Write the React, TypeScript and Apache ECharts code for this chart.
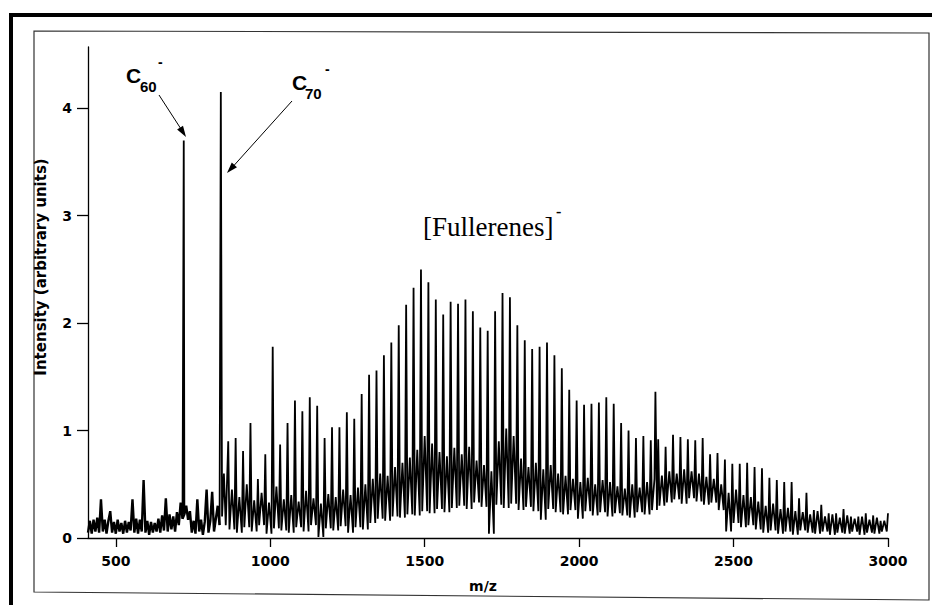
import React, { useEffect, useRef } from "react";
import * as echarts from "echarts";

// ---- axis ticks ----
const X_TICKS = [500, 1000, 1500, 2000, 2500, 3000];
const Y_TICKS = [0, 1, 2, 3, 4];

// ---- low-mass noise (m/z 410 .. 836, every 6 m/z) ----
const NOISE_START = 410;
const NOISE_STEP = 6;
const lowMassNoise = [
  0.05, 0.16, 0.04, 0.17, 0.06, 0.19, 0.05, 0.36, 0.06, 0.17,
  0.04, 0.16, 0.25, 0.05, 0.15, 0.04, 0.17, 0.06, 0.14, 0.04,
  0.16, 0.05, 0.15, 0.07, 0.36, 0.05, 0.18, 0.04, 0.17, 0.06,
  0.54, 0.05, 0.16, 0.03, 0.15, 0.05, 0.14, 0.06, 0.18, 0.05,
  0.21, 0.07, 0.37, 0.06, 0.22, 0.08, 0.2, 0.06, 0.24, 0.12,
  0.33, 0.18, 0.22, 0.3, 0.17, 0.25, 0.05, 0.16, 0.04, 0.36,
  0.06, 0.17, 0.03, 0.15, 0.45, 0.05, 0.16, 0.43, 0.06, 0.18,
  0.3, 0.12,
];

// ---- magic-number peaks ----
const C60 = { mz: 720, intensity: 3.7 };
const C70 = { mz: 840, intensity: 4.15 };
const c70Shoulder: [number, number][] = [
  [844, 0.2],
  [850, 0.6],
  [856, 0.12],
];

// ---- fullerene cluster peaks C72 .. C250 (C2 steps, m/z = 12 n) ----
const FIRST_CARBON = 72;
const peakTop = [
  0.9, 0.93, 0.81, 1.07, 0.55, 0.78, 1.78, 0.87, 1.07, 1.28,
  1.18, 1.31, 1.23, 0.93, 1.03, 1.03, 1.17, 1.11, 1.34, 1.52,
  1.56, 1.7, 1.82, 1.98, 2.17, 2.33, 2.5, 2.38, 2.22, 2.08,
  2.2, 2.18, 2.22, 2.11, 1.96, 1.93, 2.11, 2.28, 2.24, 1.98,
  1.84, 1.76, 1.78, 1.82, 1.7, 1.58, 1.38, 1.28, 1.24, 1.25,
  1.26, 1.31, 1.25, 1.07, 1.0, 0.93, 0.95, 0.91, 0.92, 0.85,
  0.96, 0.94, 0.92, 0.91, 0.93, 0.78, 0.79, 0.73, 0.69, 0.69,
  0.7, 0.66, 0.65, 0.56, 0.54, 0.52, 0.52, 0.37, 0.42, 0.26,
  0.31, 0.23, 0.23, 0.27, 0.2, 0.2, 0.23, 0.21, 0.16, 0.23,
];
const valleyLow = [
  0.08, 0.05, 0.1, 0.06, 0.12, 0.04, 0.09, 0.07, 0.05, 0.1,
  0.06, 0.12, 0.01, 0.09, 0.07, 0.11, 0.05, 0.1, 0.08,
  0.14, 0.18, 0.16, 0.2, 0.19, 0.22, 0.21, 0.25, 0.23, 0.27, 0.24, 0.28,
  0.3, 0.27, 0.33, 0.29, 0.04, 0.31, 0.28, 0.32, 0.26, 0.29, 0.25, 0.17, 0.27, 0.24,
  0.22, 0.26, 0.18, 0.25, 0.21, 0.24, 0.2, 0.23, 0.21, 0.19, 0.24, 0.22, 0.26,
  0.3, 0.33, 0.36, 0.32, 0.37, 0.34, 0.31, 0.33,
  0.26, 0.06, 0.14, 0.1, 0.12,
  0.08, 0.05, 0.07, 0.04, 0.06, 0.03, 0.07, 0.05, 0.04, 0.06,
  0.03, 0.05, 0.04, 0.06, 0.03, 0.05, 0.04, 0.06, 0.08,
];
const secondary = [
  0.45, 0.38, 0.5, 0.35, 0.42, 0.33, 0.48, 0.36, 0.4, 0.34,
  0.44, 0.37, 0.32, 0.41, 0.38, 0.45, 0.4, 0.47, 0.5,
  0.55, 0.6, 0.58, 0.66, 0.7, 0.75, 0.82, 0.95, 0.88, 0.8, 0.76, 0.84,
  0.78, 0.85, 0.72, 0.68, 0.62, 0.9, 1.02, 0.95, 0.74, 0.66, 0.7, 0.64, 0.68, 0.6,
  0.58, 0.55, 0.52, 0.56, 0.5, 0.54, 0.52, 0.48, 0.46, 0.5, 0.47, 0.52, 0.55,
  0.58, 0.62, 0.6, 0.64, 0.62, 0.6, 0.57, 0.55,
  0.5, 0.42, 0.45, 0.4, 0.38,
  0.34, 0.3, 0.32, 0.27, 0.28, 0.25, 0.24, 0.22, 0.25, 0.2,
  0.22, 0.19, 0.21, 0.18, 0.2, 0.17, 0.19, 0.16, 0.18,
];
const isolatedSpikes: [number, number][] = [[2247, 1.36]];

function buildNoise(): [number, number][] {
  return lowMassNoise.map((v, i) => [NOISE_START + i * NOISE_STEP, v] as [number, number]);
}

function buildC60(): [number, number][] {
  // C60 rises out of the noise floor between its two neighbouring samples
  const noise = buildNoise();
  const before = noise.filter((p) => p[0] < C60.mz).pop()!;
  const after = noise.find((p) => p[0] > C60.mz)!;
  return [before, [C60.mz, C60.intensity], after];
}

function buildClusters(): [number, number][] {
  const noise = buildNoise();
  const pts: [number, number][] = [noise[noise.length - 1]];
  pts.push([C70.mz, C70.intensity]);
  c70Shoulder.forEach((p) => pts.push(p));
  peakTop.forEach((v, i) => {
    const mz = 12 * (FIRST_CARBON + 2 * i);
    pts.push([mz, v]);
    if (i < peakTop.length - 1) {
      pts.push([mz + 4, valleyLow[i]]);
      pts.push([mz + 12, secondary[i]]);
      pts.push([mz + 20, valleyLow[i]]);
    }
  });
  isolatedSpikes.forEach((p) => pts.push(p));
  pts.sort((a, b) => a[0] - b[0]);
  return pts;
}

const tickFont = {
  color: "#000",
  fontFamily: "DejaVu Sans",
  fontWeight: "bold" as const,
  fontSize: 14,
};

function label(text: string, x: number, y: number, font: string) {
  return {
    type: "text",
    x,
    y,
    silent: true,
    style: {
      text,
      font,
      fill: "#000",
      align: "left",
      verticalAlign: "middle",
      textAlign: "left",
      textVerticalAlign: "middle",
    },
  };
}

export default function App() {
  const ref = useRef<HTMLDivElement>(null);
  useEffect(() => {
    if (!ref.current) return;
    const chart = echarts.init(ref.current, undefined, { renderer: "svg" });
    const sans = '"Liberation Sans", Arial, sans-serif';
    const lineBase = {
      type: "line",
      showSymbol: false,
      symbol: "none",
      silent: true,
      clip: true,
    };
    const option: any = {
      animation: false,
      backgroundColor: "#fff",
      grid: { left: 88, right: 44, top: 47, bottom: 67 },
      xAxis: {
        type: "value",
        min: 410,
        max: 3000,
        name: "m/z",
        nameLocation: "middle",
        nameGap: 41,
        nameTextStyle: { ...tickFont, fontSize: 14, padding: [0, 10, 0, 0] },
        axisLine: { show: true, onZero: false, lineStyle: { color: "#000", width: 1.3 } },
        axisTick: {
          show: true,
          inside: false,
          length: 9,
          customValues: X_TICKS,
          lineStyle: { color: "#000", width: 1.3 },
        },
        axisLabel: {
          ...tickFont,
          margin: 16,
          customValues: X_TICKS,
          formatter: (v: number) => String(v),
        },
        splitLine: { show: false },
      },
      yAxis: {
        type: "value",
        min: 0,
        max: 4.57,
        name: "Intensity (arbitrary units)",
        nameLocation: "middle",
        nameRotate: 90,
        nameGap: 40,
        nameTextStyle: { ...tickFont, fontSize: 15, padding: [0, 0, 0, 51] },
        axisLine: { show: true, lineStyle: { color: "#000", width: 1.3 } },
        axisTick: {
          show: true,
          inside: false,
          length: 11,
          customValues: Y_TICKS,
          lineStyle: { color: "#000", width: 1.3 },
        },
        axisLabel: {
          ...tickFont,
          margin: 16,
          customValues: Y_TICKS,
          formatter: (v: number) => String(v),
        },
        splitLine: { show: false },
      },
      series: [
        { ...lineBase, name: "noise", data: buildNoise(), lineStyle: { color: "#000", width: 2.4 } },
        { ...lineBase, name: "C60", data: buildC60(), lineStyle: { color: "#000", width: 1.8 } },
        { ...lineBase, name: "fullerenes", data: buildClusters(), lineStyle: { color: "#000", width: 1.8 } },
      ],
      graphic: [
        {
          type: "rect",
          silent: true,
          shape: { x: 11, y: 15, width: 1000, height: 1000 },
          style: { fill: "none", stroke: "#000", lineWidth: 4 },
        },
        {
          type: "polygon",
          silent: true,
          shape: { points: [[34, 31], [929, 33], [929, 600], [34, 592]] },
          style: { fill: "none", stroke: "#333", lineWidth: 1.2 },
        },
        label("C", 126, 75, `bold 21px ${sans}`),
        label("60", 140, 86, `bold 15px ${sans}`),
        label("-", 158, 62, `bold 14px ${sans}`),
        label("C", 292, 82, `bold 21px ${sans}`),
        label("70", 305, 93, `bold 15px ${sans}`),
        label("-", 325, 69, `bold 14px ${sans}`),
        label("[Fullerenes]", 423, 227, `27px "Liberation Serif", "Times New Roman", serif`),
        label("-", 556, 211, `bold 16px "Liberation Serif", serif`),
        {
          type: "line",
          silent: true,
          shape: { x1: 159, y1: 95, x2: 181, y2: 129 },
          style: { stroke: "#000", lineWidth: 1 },
        },
        {
          type: "polygon",
          silent: true,
          shape: { points: [[186, 137], [177.1, 129.6], [183.0, 125.85]] },
          style: { fill: "#000" },
        },
        {
          type: "line",
          silent: true,
          shape: { x1: 292, y1: 101, x2: 233.5, y2: 166 },
          style: { stroke: "#000", lineWidth: 1 },
        },
        {
          type: "polygon",
          silent: true,
          shape: { points: [[227, 173], [231.77, 162.49], [236.97, 167.19]] },
          style: { fill: "#000" },
        },
      ],
    };
    chart.setOption(option);
    return () => chart.dispose();
  }, []);
  return (
    <div
      ref={ref}
      style={{ position: "fixed", left: 0, top: 0, width: 932, height: 605, background: "#fff" }}
    />
  );
}
